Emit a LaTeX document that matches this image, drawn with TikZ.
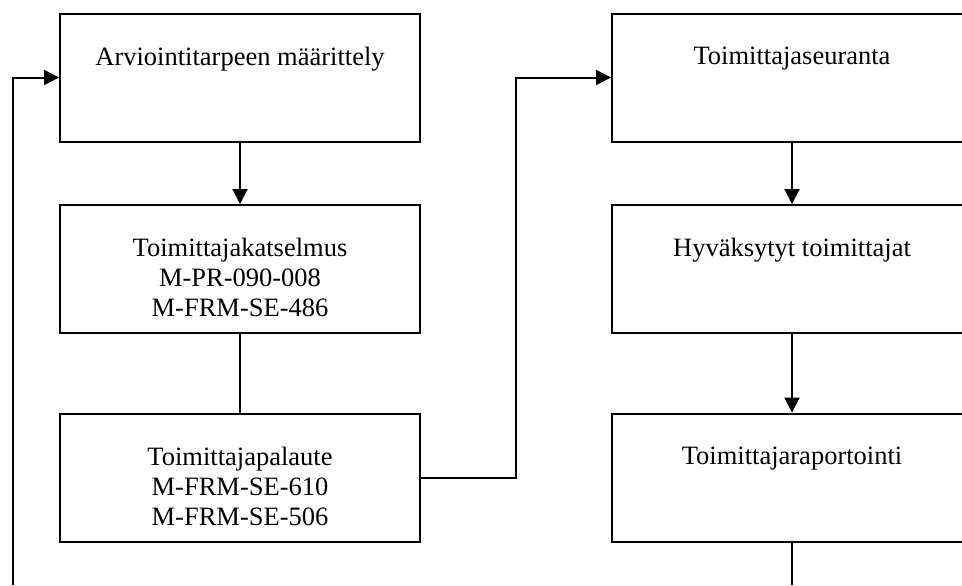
\documentclass[tikz,border=0pt]{standalone}
\usepackage{fontspec}
\setmainfont{Liberation Serif}
\usetikzlibrary{arrows.meta}
\begin{document}
\begin{tikzpicture}[x=0.5pt,y=-0.5pt,
  box/.style={draw, line width=1pt, minimum width=180pt, minimum height=64pt, inner sep=0pt},
  boxtext/.style={anchor=north, inner sep=0pt, align=center,
    font=\fontsize{13.25pt}{15pt}\selectfont, yshift=-17pt},
  link/.style={line width=1pt},
  arr/.style={link, -{Triangle[length=7.5pt,width=7.5pt]}}]
  \useasboundingbox (0,0) rectangle (962,585);
  \clip (0,0) rectangle (962,585);

  % left column
  \node[box] (A) at (240,77.5) {};
  \node[box] (B) at (240,269) {};
  \node[box] (C) at (240,477.5) {};
  % right column (runs past the right edge)
  \node[box] (D) at (792,77.5) {};
  \node[box] (E) at (792,269) {};
  \node[box] (F) at (792,477.5) {};

  \node[boxtext] (tA) at (A.north) {Arviointitarpeen määrittely};
  \node[boxtext] (tB) at (B.north) {Toimittajakatselmus\\M-PR-090-008\\M-FRM-SE-486};
  \node[boxtext] (tC) at (C.north) {Toimittajapalaute\\M-FRM-SE-610\\M-FRM-SE-506};
  \node[boxtext] (tD) at (D.north) {Toimittajaseuranta};
  \node[boxtext] (tE) at (E.north) {Hyväksytyt toimittajat};
  \node[boxtext] (tF) at (F.north) {Toimittajaraportointi};

  % helper points for the routed lines
  \coordinate (jx) at (516,0);
  \coordinate (loopstart) at (12.7,585);
  \coordinate (fend) at (792,585);

  \draw[arr] (A.south) -- (B.north);
  \draw[link] (B.south) -- (C.north);
  \draw[arr] (C.east) -| (jx |- D.west) -- (D.west);
  \draw[arr] (D.south) -- (E.north);
  \draw[arr] (E.south) -- (F.north);
  \draw[link] (F.south) -- (fend);
  \draw[arr] (loopstart) |- (A.west);
\end{tikzpicture}
\end{document}
